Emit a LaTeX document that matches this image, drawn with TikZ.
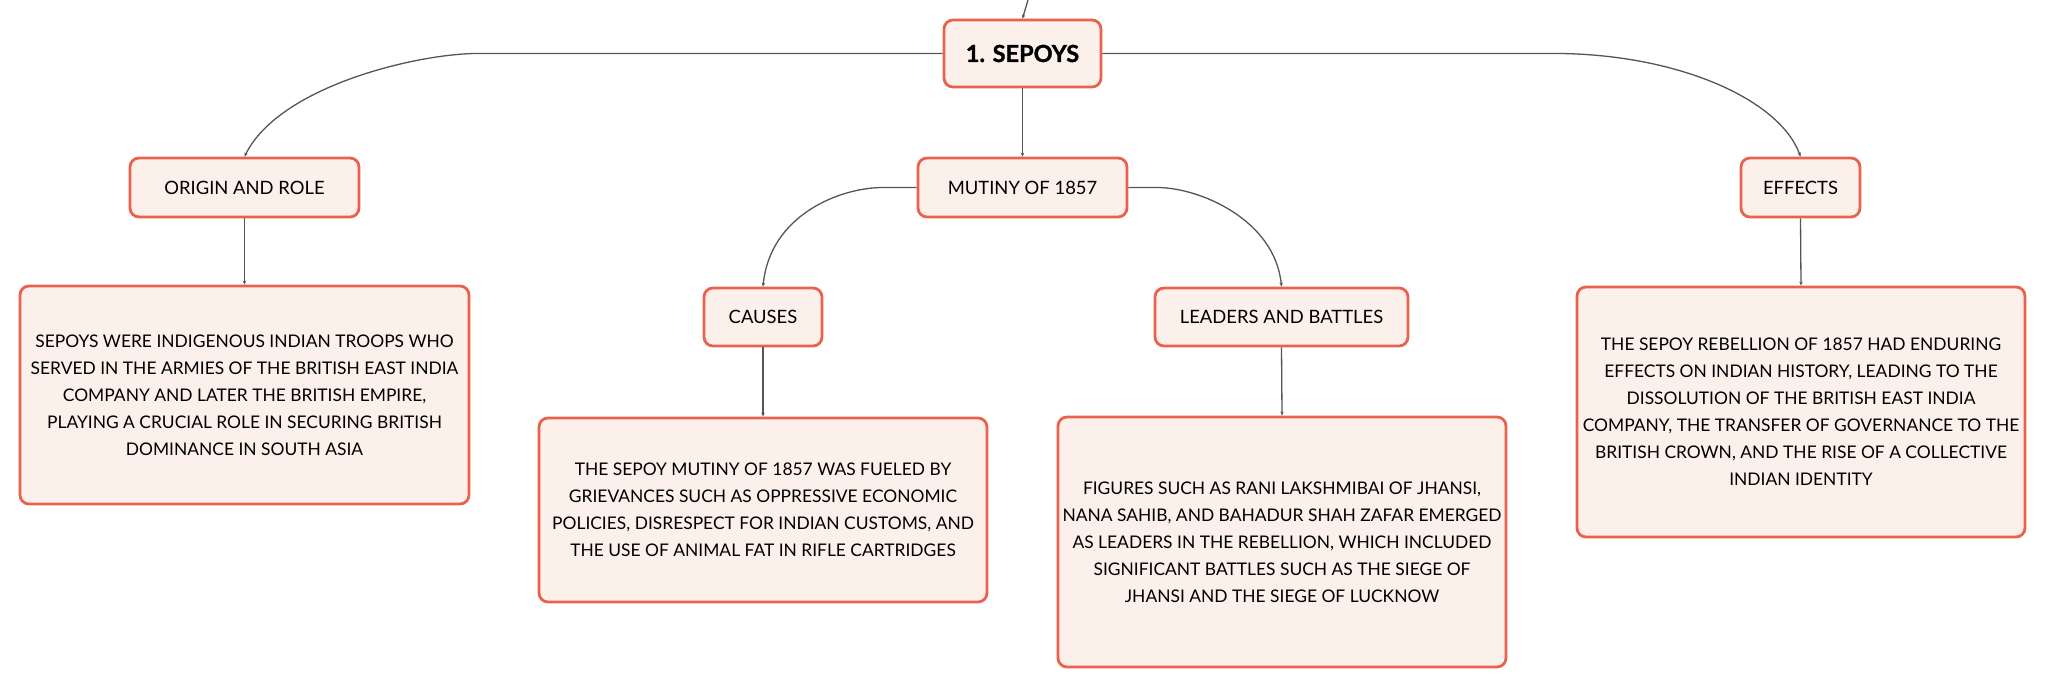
\documentclass[tikz,border=0pt]{standalone}
\usepackage{fontspec}
\setmainfont{Lato}
\newfontfamily\titlefont{Lato}[BoldFeatures={FakeBold=1.2}]
\usetikzlibrary{arrows.meta}
\definecolor{boxfill}{HTML}{FCF0EB}
\definecolor{boxline}{HTML}{EA624D}
\definecolor{connline}{HTML}{555555}
\begin{document}
\begin{tikzpicture}[x=1pt,y=-1pt,
  box/.style={rectangle, rounded corners=9pt, draw=boxline, line width=2.8pt, fill=boxfill, inner sep=0pt, align=center, text=black},
  lbl/.style={box, font=\fontsize{18.4}{24}\selectfont},
  title/.style={box, font=\titlefont\bfseries\fontsize{23.5}{28}\selectfont},
  txt/.style={box, font=\fontsize{17.4}{27}\selectfont},
  conn/.style={draw=connline, line width=1.3pt, -{Stealth[length=4pt,width=3.5pt]}}]
\useasboundingbox (0,0) rectangle (2046,688);

\node[title, minimum width=157pt, minimum height=67pt] (sepoys) at (1022.5,53.5) {1. SEPOYS};
\node[lbl, minimum width=229pt, minimum height=59pt] (origin) at (244.5,187.5) {ORIGIN AND ROLE};
\node[lbl, minimum width=209pt, minimum height=59pt] (mutiny) at (1022.5,187.5) {MUTINY OF 1857};
\node[lbl, minimum width=119pt, minimum height=59pt] (effects) at (1800.5,187.5) {EFFECTS};
\node[lbl, minimum width=118pt, minimum height=58pt] (causes) at (763,317) {CAUSES};
\node[lbl, minimum width=253pt, minimum height=58pt] (leaders) at (1281.5,317) {LEADERS AND BATTLES};

\node[txt, minimum width=449pt, minimum height=218pt] (origintext) at (244.5,395) {SEPOYS WERE INDIGENOUS INDIAN TROOPS WHO\\SERVED IN THE ARMIES OF THE BRITISH EAST INDIA\\COMPANY AND LATER THE BRITISH EMPIRE,\\PLAYING A CRUCIAL ROLE IN SECURING BRITISH\\DOMINANCE IN SOUTH ASIA};
\node[txt, minimum width=448pt, minimum height=184pt] (causestext) at (763,510) {THE SEPOY MUTINY OF 1857 WAS FUELED BY\\GRIEVANCES SUCH AS OPPRESSIVE ECONOMIC\\POLICIES, DISRESPECT FOR INDIAN CUSTOMS, AND\\THE USE OF ANIMAL FAT IN RIFLE CARTRIDGES};
\node[txt, minimum width=448pt, minimum height=250pt] (leaderstext) at (1282,542) {FIGURES SUCH AS RANI LAKSHMIBAI OF JHANSI,\\NANA SAHIB, AND BAHADUR SHAH ZAFAR EMERGED\\AS LEADERS IN THE REBELLION, WHICH INCLUDED\\SIGNIFICANT BATTLES SUCH AS THE SIEGE OF\\JHANSI AND THE SIEGE OF LUCKNOW};
\node[txt, minimum width=448pt, minimum height=250pt] (effectstext) at (1801,412) {THE SEPOY REBELLION OF 1857 HAD ENDURING\\EFFECTS ON INDIAN HISTORY, LEADING TO THE\\DISSOLUTION OF THE BRITISH EAST INDIA\\COMPANY, THE TRANSFER OF GOVERNANCE TO THE\\BRITISH CROWN, AND THE RISE OF A COLLECTIVE\\INDIAN IDENTITY};

\coordinate (topin) at (1028,0);
\draw[conn] (topin) -- (sepoys.north);

\draw[conn] (sepoys.west) -- (477,53.5) .. controls (420,53.5) and (280,85) .. (origin.north);
\draw[conn] (sepoys.east) -- (1560,53.5) .. controls (1680,55) and (1780,100) .. (effects.north);
\draw[conn] (sepoys.south) -- (mutiny.north);

\draw[conn] (mutiny.west) -- (883,187.5) .. controls (840,187.5) and (770,215) .. (causes.north);
\draw[conn] (mutiny.east) -- (1157,187.5) .. controls (1200,187.5) and (1275,220) .. (leaders.north);

\draw[conn] (origin.south) -- (origintext.north);
\draw[conn] (causes.south) -- (causestext.north);
\draw[conn] (leaders.south) -- (leaderstext.north);
\draw[conn] (effects.south) -- (effectstext.north);
\end{tikzpicture}
\end{document}
